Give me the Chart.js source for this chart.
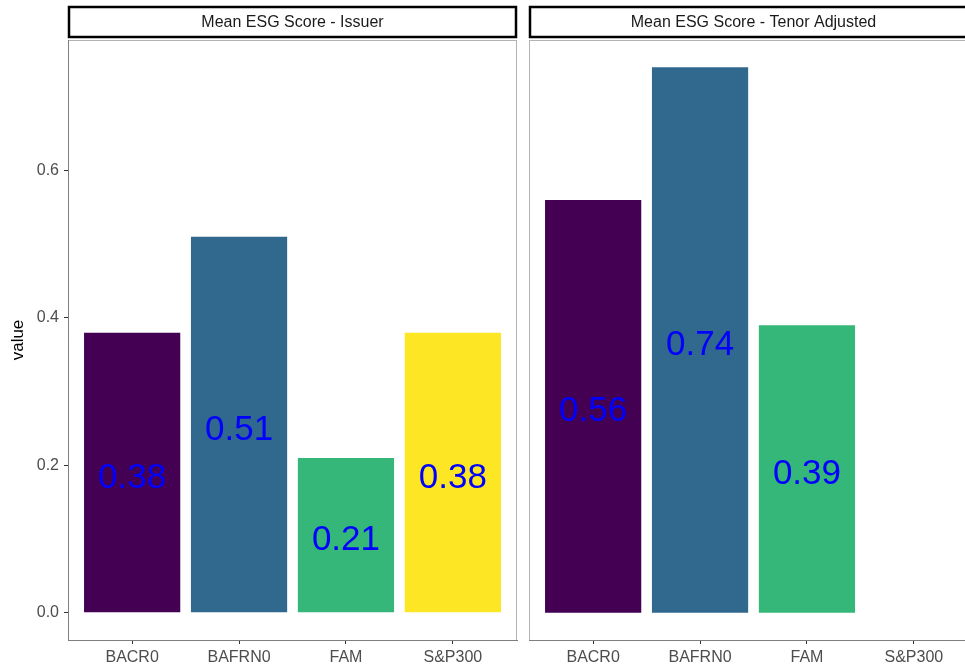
<!DOCTYPE html>
<html>
<head>
<meta charset="utf-8">
<script src="https://cdn.jsdelivr.net/npm/chart.js@4"></script>
<style>
    html, body { margin:0; padding:0; background:#fff; width:965px; height:669px; overflow:hidden; }
    #left { position:absolute; left:0; top:0; }
    #right { position:absolute; left:524px; top:0; }
</style>
</head>
<body>
<canvas id="left" width="522" height="669"></canvas>
<canvas id="right" width="460" height="669"></canvas>
<script>
const categories=["BACR0","BAFRN0","FAM","S&P300"];
const issuerScores=[0.38,0.51,0.21,0.38];
const tenorScores=[0.56,0.74,0.39,null];
const yTicks=[0,0.2,0.4,0.6];
const barColors=["#440154","#31688E","#35B779","#FDE725"];
const panelTitles=["Mean ESG Score - Issuer","Mean ESG Score - Tenor Adjusted"];

Chart.defaults.font.family="'Liberation Sans', Arial, sans-serif";

// shared y range like ggplot (5% expansion)
const allVals=[...issuerScores,...tenorScores].filter(v=>v!==null);
const yTop=Math.max(...allVals);
const yMin=-0.05*yTop, yMax=yTop*1.05;

/* -------- plugins -------- */

const panelDeco={
    id:"panelDeco",
    beforeDraw(chart,args,opts){
        const a=chart.chartArea, ctx=chart.ctx;
        ctx.save();
        ctx.strokeStyle="#b3b3b3";
        ctx.lineWidth=1;
        ctx.strokeRect(a.left+0.5,a.top+0.5,a.right-a.left-1,a.bottom-a.top);
        ctx.restore();
    },
    afterDraw(chart,args,opts){
        const a=chart.chartArea, ctx=chart.ctx;
        ctx.save();
        // strip
        ctx.fillStyle="#fff";
        ctx.fillRect(a.left,7,a.right-a.left,30);
        ctx.strokeStyle="#000";
        ctx.lineWidth=2.5;
        ctx.strokeRect(a.left+1,7,a.right-a.left-2,30);
        ctx.fillStyle="#1a1a1a";
        ctx.font="16px 'Liberation Sans', Arial, sans-serif";
        ctx.textAlign="center";
        ctx.textBaseline="middle";
        ctx.fillText(opts.title,(a.left+a.right)/2,23);
        ctx.restore();
    }
};

const valueLabels={
    id:"valueLabels",
    afterDatasetsDraw(chart){
        const ctx=chart.ctx, y=chart.scales.y;
        const vals=chart.data.datasets[0].data;
        ctx.save();
        ctx.fillStyle="#0000ff";
        ctx.font="35px 'Liberation Sans', Arial, sans-serif";
        ctx.textAlign="center";
        ctx.textBaseline="alphabetic";
        chart.getDatasetMeta(0).data.forEach((bar,i)=>{
            const v=vals[i].y;
            if(v===null)return;
            ctx.fillText(v.toFixed(2),bar.x,y.getPixelForValue(v/2)+15);
        });
        ctx.restore();
    }
};

/* -------- panels -------- */

function makePanel(id,title,values,showY){
    return new Chart(document.getElementById(id),{
        type:"bar",
        data:{
            datasets:[{
                data:values.map((v,i)=>({x:i+1,y:v})),
                backgroundColor:barColors,
                borderWidth:0,
                barPercentage:0.9,
                categoryPercentage:1
            }]
        },
        options:{
            responsive:false,
            animation:false,
            layout:{padding:{top:40,right:showY?5:6,left:showY?0:5,bottom:0}},
            plugins:{legend:{display:false},tooltip:{enabled:false},panelDeco:{title}},
            scales:{
                x:{
                    type:"linear",
                    min:0.4,max:4.6,
                    offset:false,
                    afterBuildTicks:s=>{s.ticks=categories.map((c,i)=>({value:i+1}));},
                    afterFit:s=>{s.height=29;},
                    grid:{offset:false,drawOnChartArea:false,drawTicks:true,tickLength:4,color:"#333"},
                    border:{color:"#7f7f7f"},
                    ticks:{
                        callback:(v,i)=>categories[i],
                        color:"#4d4d4d",font:{size:16},padding:4,maxRotation:0,autoSkip:false
                    }
                },
                y:{
                    display:showY,
                    min:yMin,max:yMax,
                    afterBuildTicks:s=>{s.ticks=yTicks.map(v=>({value:v}));},
                    afterFit:s=>{if(showY)s.width=68;},
                    grid:{drawOnChartArea:false,drawTicks:true,tickLength:4,color:"#333"},
                    border:{color:"#7f7f7f"},
                    ticks:{callback:v=>v.toFixed(1),color:"#4d4d4d",font:{size:16},padding:5},
                    title:{display:true,text:"value",color:"#000",font:{size:17},padding:{top:8,bottom:0}}
                }
            }
        },
        plugins:[panelDeco,valueLabels]
    });
}

makePanel("left",panelTitles[0],issuerScores,true);
makePanel("right",panelTitles[1],tenorScores,false);
</script>
</body>
</html>
